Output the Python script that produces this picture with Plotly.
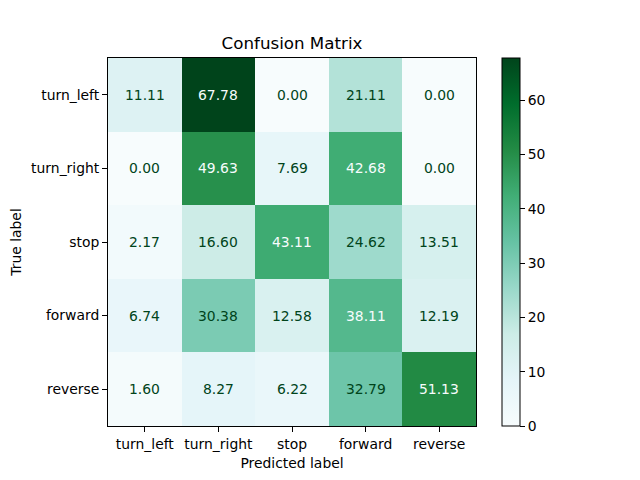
import plotly.graph_objects as go

labels = ["turn_left", "turn_right", "stop", "forward", "reverse"]
values = [
    [11.11, 67.78, 0.00, 21.11, 0.00],
    [0.00, 49.63, 7.69, 42.68, 0.00],
    [2.17, 16.60, 43.11, 24.62, 13.51],
    [6.74, 30.38, 12.58, 38.11, 12.19],
    [1.60, 8.27, 6.22, 32.79, 51.13],
]

bugn = [
    [0.0, "rgb(247,252,253)"], [0.125, "rgb(229,245,249)"], [0.25, "rgb(204,236,230)"],
    [0.375, "rgb(153,216,201)"], [0.5, "rgb(102,194,164)"], [0.625, "rgb(65,174,118)"],
    [0.75, "rgb(35,139,69)"], [0.875, "rgb(0,109,44)"], [1.0, "rgb(0,68,27)"],
]

vmin = min(min(r) for r in values)
vmax = max(max(r) for r in values)
thresh = (vmin + vmax) / 2

# page body has an 8px margin; offset the layout to compensate
OFF = 8
L, T, W = 108 - OFF, 58 - OFF, 368

fig = go.Figure(go.Heatmap(
    z=values, x=labels, y=labels, colorscale=bugn, zmin=vmin, zmax=vmax,
    xgap=0, ygap=0, hoverinfo="skip",
    colorbar=dict(
        x=(502 - 108) / W, xanchor="left", y=0.5, yanchor="middle", len=1.0, lenmode="fraction",
        thickness=18, outlinewidth=1, outlinecolor="black", xpad=0, ypad=0,
        ticks="outside", ticklen=5, tickcolor="black", tickwidth=1,
        tickvals=[0, 10, 20, 30, 40, 50, 60],
        tickfont=dict(family="DejaVu Sans", size=13.9, color="black"),
    ),
))

annotations = []
for i, row in enumerate(values):
    for j, v in enumerate(row):
        annotations.append(dict(
            x=labels[j], y=labels[i], text=f"{v:.2f}", showarrow=False,
            font=dict(family="DejaVu Sans", size=13.9,
                      color="rgb(247,252,253)" if v > thresh else "rgb(0,68,27)"),
        ))

fig.update_layout(
    width=640, height=480,
    margin=dict(l=L, r=640 - L - W, t=T, b=480 - T - W, autoexpand=False),
    paper_bgcolor="white", plot_bgcolor="white",
    title=dict(text="Confusion Matrix", x=(L + W / 2) / 640, xanchor="center",
               y=1 - (43 - OFF) / 480, yanchor="middle", automargin=False,
               font=dict(family="DejaVu Sans", size=16.7, color="black")),
    annotations=annotations,
    font=dict(family="DejaVu Sans", size=13.9, color="black"),
)
fig.update_xaxes(
    title=dict(text="Predicted label", standoff=7, font=dict(size=13.9)),
    showline=True, mirror=True, linecolor="black", linewidth=1, automargin=False,
    ticks="outside", ticklen=5, tickcolor="black", showgrid=False, zeroline=False,
    tickfont=dict(size=13.9),
)
fig.update_yaxes(
    title=dict(text="True label", standoff=7, font=dict(size=13.9)),
    autorange="reversed", automargin=False,
    showline=True, mirror=True, linecolor="black", linewidth=1,
    ticks="outside", ticklen=5, tickcolor="black", showgrid=False, zeroline=False,
    tickfont=dict(size=13.9),
)

fig.write_html("out.html")
